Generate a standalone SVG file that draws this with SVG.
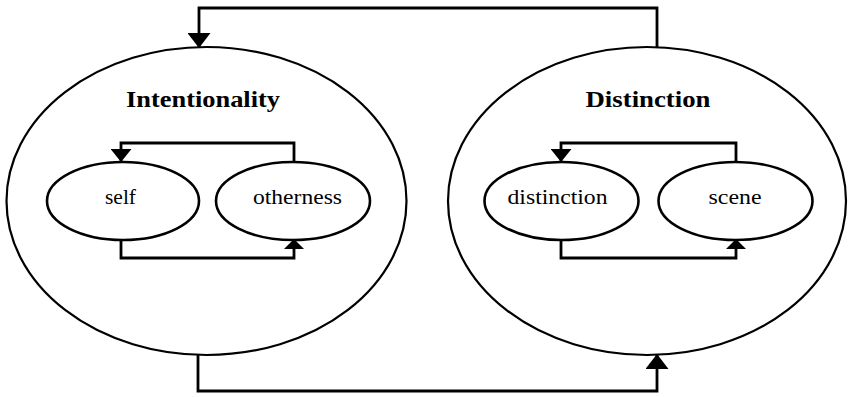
<svg xmlns="http://www.w3.org/2000/svg" width="848" height="397" viewBox="0 0 848 397">
  <defs>
    <style>
      .big { fill: none; stroke: #000; stroke-width: 2.2; }
      .small { fill: none; stroke: #000; stroke-width: 2.6; }
      .wire { fill: none; stroke: #000; stroke-width: 2.8; }
      .title { font-family: "Liberation Serif", "DejaVu Serif", serif; font-weight: bold; font-size: 23px; fill: #000; }
      .label { font-family: "Liberation Serif", "DejaVu Serif", serif; font-size: 22px; fill: #000; }
    </style>
    <marker id="headBig" markerUnits="userSpaceOnUse" viewBox="0 0 15 23" refX="15" refY="11.5" markerWidth="15" markerHeight="23" orient="auto">
      <path d="M0,0 L15,11.5 L0,23 Z" fill="#000"/>
    </marker>
    <marker id="headSmall" markerUnits="userSpaceOnUse" viewBox="0 0 13 21" refX="13" refY="10.5" markerWidth="13" markerHeight="21" orient="auto">
      <path d="M0,0 L13,10.5 L0,21 Z" fill="#000"/>
    </marker>
    <marker id="headFlat" markerUnits="userSpaceOnUse" viewBox="0 0 10 20" refX="10" refY="10" markerWidth="10" markerHeight="20" orient="auto">
      <path d="M0,0 L10,10 L0,20 Z" fill="#000"/>
    </marker>
  </defs>
  <rect width="848" height="397" fill="#fff"/>

  <g id="connectors">
    <!-- outer loop between the two big ellipses -->
    <path class="wire" d="M657,48 V8 H199 V48" marker-end="url(#headBig)"/>
    <path class="wire" d="M198,355 V391 H657 V354" marker-end="url(#headBig)"/>
    <!-- inner loop: self / otherness -->
    <path class="wire" d="M294,162 V143 H121 V162" marker-end="url(#headSmall)"/>
    <path class="wire" d="M121,239 V258 H294 V239" marker-end="url(#headFlat)"/>
    <!-- inner loop: distinction / scene -->
    <path class="wire" d="M736,162 V143 H561 V162" marker-end="url(#headSmall)"/>
    <path class="wire" d="M561,239 V258 H736 V239" marker-end="url(#headFlat)"/>
  </g>

  <g id="intentionality">
    <ellipse class="big" cx="206.5" cy="201" rx="200" ry="154"/>
    <text class="title" x="203" y="107" text-anchor="middle" textLength="154" lengthAdjust="spacingAndGlyphs">Intentionality</text>
  </g>
  <g id="distinction-outer">
    <ellipse class="big" cx="647" cy="201" rx="199" ry="154"/>
    <text class="title" x="648" y="107" text-anchor="middle" textLength="125" lengthAdjust="spacingAndGlyphs">Distinction</text>
  </g>

  <g id="self">
    <ellipse class="small" cx="123" cy="201" rx="76" ry="39"/>
    <text class="label" x="120.5" y="204" text-anchor="middle" textLength="31" lengthAdjust="spacingAndGlyphs">self</text>
  </g>
  <g id="otherness">
    <ellipse class="small" cx="293" cy="201" rx="77" ry="39"/>
    <text class="label" x="297.5" y="204" text-anchor="middle" textLength="89" lengthAdjust="spacingAndGlyphs">otherness</text>
  </g>
  <g id="distinction">
    <ellipse class="small" cx="561.5" cy="201" rx="77" ry="39"/>
    <text class="label" x="557.5" y="204" text-anchor="middle" textLength="100" lengthAdjust="spacingAndGlyphs">distinction</text>
  </g>
  <g id="scene">
    <ellipse class="small" cx="735.5" cy="201" rx="77" ry="39"/>
    <text class="label" x="735" y="204" text-anchor="middle" textLength="53" lengthAdjust="spacingAndGlyphs">scene</text>
  </g>
</svg>
